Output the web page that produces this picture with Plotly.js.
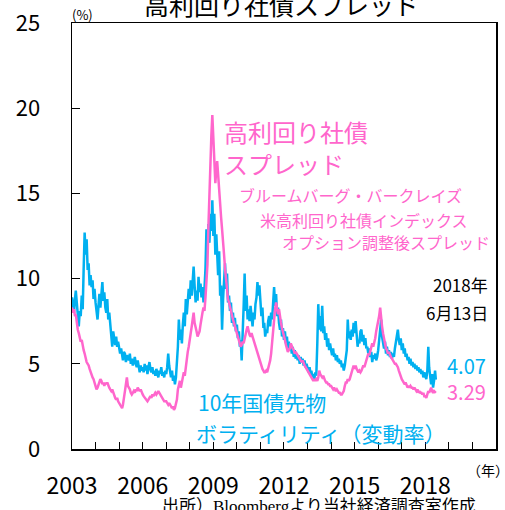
<!DOCTYPE html>
<html>
<head>
<meta charset="utf-8">
<script src="https://cdn.plot.ly/plotly-3.0.1.min.js"></script>
<style>
  html, body { margin: 0; padding: 0; background: #fff; }
  #container { width: 505px; height: 510px; }
</style>
</head>
<body>
<div id="container"></div>
<script>
// semi-monthly readings (1st and 16th), 2003-01 .. 2018-06-13
var startYear = 2003;
var lastDate = '2018-06-13';

// high-yield OAS (%), one row per year
var spread = [
  8.3, 8.0, 8.2, 7.8, 7.9, 7.4, 7.0, 6.8, 6.5, 6.3, 6.4, 6.0, 5.8, 5.6, 5.3, 5.1, 5.0, 4.9, 4.7, 4.5, 4.4, 4.2, 4.1, 3.9,
  3.7, 3.5, 3.6, 3.8, 3.9, 4.1, 4.0, 3.8, 3.9, 3.7, 3.9, 3.8, 3.9, 3.7, 3.6, 3.5, 3.4, 3.5, 3.3, 3.1, 3.0, 2.9, 3.0, 2.8,
  2.7, 2.6, 2.5, 2.4, 2.6, 2.9, 3.4, 3.8, 4.2, 3.7, 3.6, 3.5, 3.3, 3.2, 3.3, 3.4, 3.3, 3.5, 3.4, 3.6, 3.5, 3.4, 3.5, 3.3,
  3.2, 3.1, 3.0, 2.9, 2.9, 2.8, 2.9, 3.0, 3.1, 3.0, 3.2, 3.1, 3.2, 3.3, 3.2, 3.3, 3.4, 3.3, 3.2, 3.1, 3.0, 2.9, 2.8, 2.8,
  2.8, 2.7, 2.6, 2.7, 2.6, 2.5, 2.4, 2.5, 2.3, 2.4, 2.6, 2.9, 3.5, 3.8, 4.0, 3.6, 3.9, 4.2, 4.5, 4.3, 4.9, 5.3, 5.7, 6.0,
  6.3, 6.8, 7.2, 7.6, 8.0, 7.4, 7.0, 6.9, 6.6, 6.8, 6.9, 7.3, 7.8, 8.0, 8.3, 8.1, 8.9, 9.6, 10.8, 13.0, 15.2, 16.6, 18.4, 19.6,
  17.8, 16.2, 15.6, 16.4, 16.9, 16.1, 15.0, 14.3, 13.6, 12.9, 12.3, 11.4, 10.6, 10.0, 9.3, 8.8, 8.6, 8.3, 8.0, 7.9, 7.6, 7.4, 7.2, 6.9,
  6.8, 6.6, 6.4, 6.2, 6.0, 6.1, 6.3, 6.2, 6.5, 6.9, 7.0, 7.2, 6.9, 6.7, 6.6, 6.8, 6.6, 6.4, 6.2, 6.0, 5.8, 5.6, 5.4, 5.2,
  5.0, 4.8, 4.7, 4.6, 4.5, 4.5, 4.6, 4.5, 4.7, 4.9, 5.2, 5.6, 6.3, 6.9, 7.5, 8.2, 8.6, 8.3, 7.9, 8.2, 7.6, 7.4, 7.1, 6.8,
  6.6, 6.4, 6.1, 5.9, 5.7, 5.8, 5.9, 6.2, 6.0, 5.9, 5.8, 5.6, 5.7, 5.6, 5.5, 5.4, 5.3, 5.2, 5.1, 5.2, 5.0, 4.9, 4.8, 4.7,
  4.6, 4.5, 4.4, 4.3, 4.2, 4.1, 4.0, 4.1, 4.0, 4.1, 4.0, 4.2, 4.6, 4.4, 4.3, 4.2, 4.3, 4.1, 4.0, 3.9, 3.9, 3.8, 3.8, 3.7,
  3.7, 3.6, 3.5, 3.6, 3.5, 3.4, 3.5, 3.4, 3.3, 3.3, 3.2, 3.2, 3.3, 3.4, 3.7, 3.9, 3.9, 4.1, 4.0, 4.1, 4.3, 4.5, 4.8, 4.9,
  4.7, 4.9, 4.7, 4.6, 4.5, 4.6, 4.5, 4.6, 4.8, 4.9, 4.8, 5.0, 5.2, 5.4, 5.6, 5.5, 5.8, 6.0, 6.2, 6.0, 6.2, 6.5, 6.9, 7.2,
  7.3, 7.8, 8.3, 7.6, 7.2, 6.8, 6.4, 6.2, 5.9, 5.8, 5.6, 5.7, 5.5, 5.4, 5.3, 5.2, 5.1, 5.0, 5.0, 4.9, 4.8, 4.6, 4.4, 4.2,
  4.1, 4.0, 3.9, 3.8, 3.9, 3.7, 3.6, 3.7, 3.6, 3.7, 3.6, 3.6, 3.5, 3.6, 3.5, 3.4, 3.5, 3.3, 3.4, 3.3, 3.3, 3.2, 3.3, 3.1,
  3.1, 3.0, 3.2, 3.4, 3.3, 3.5, 3.6, 3.4, 3.3, 3.4, 3.3, 3.29
];

// 10y treasury futures volatility (%)
var vol = [
  8.9, 8.4, 8.0, 8.8, 9.3, 8.6, 7.6, 7.2, 8.1, 7.8, 9.0, 8.2, 10.6, 12.7, 11.4, 12.3, 10.5, 10.9, 9.6, 10.2, 9.5, 9.9, 8.8, 9.4,
  8.6, 8.1, 7.6, 8.4, 9.1, 8.3, 9.4, 9.8, 8.7, 9.2, 8.3, 8.0, 8.8, 7.6, 8.0, 7.2, 6.6, 6.0, 6.9, 6.4, 6.1, 6.6, 6.0, 6.3,
  6.0, 5.6, 5.9, 5.4, 5.2, 5.7, 5.6, 5.1, 5.5, 5.4, 5.2, 5.6, 5.0, 5.3, 4.9, 5.1, 5.4, 5.0, 4.8, 5.2, 4.7, 4.5, 4.9, 4.6,
  4.8, 4.5, 5.0, 4.6, 4.9, 4.4, 4.8, 5.1, 4.7, 4.5, 4.8, 4.4, 4.6, 4.3, 4.7, 4.5, 4.2, 4.6, 4.4, 4.8, 4.3, 4.5, 4.2, 4.6,
  4.4, 4.8, 5.6, 4.9, 4.5, 4.2, 4.6, 4.0, 4.3, 3.8, 4.2, 5.0, 6.0, 7.6, 6.4, 7.0, 6.2, 7.3, 8.0, 7.2, 8.8, 7.9, 8.6, 9.4,
  8.8, 9.9, 9.0, 10.4, 10.7, 9.6, 8.6, 9.3, 8.7, 10.1, 9.2, 9.7, 8.9, 9.5, 8.6, 9.4, 10.6, 12.9, 11.6, 13.2, 12.1, 13.8, 12.8, 14.6,
  12.5, 13.8, 11.4, 12.6, 11.3, 10.2, 11.6, 9.0, 9.6, 7.0, 8.8, 9.6, 10.9, 9.4, 10.3, 8.6, 9.0, 8.1, 8.6, 7.4, 8.0, 7.2, 7.7, 6.9,
  7.3, 6.5, 6.9, 6.0, 6.4, 5.2, 6.6, 8.4, 10.3, 8.1, 9.0, 7.6, 8.2, 7.5, 8.4, 7.8, 7.2, 8.0, 7.6, 8.5, 8.9, 9.8, 9.0, 9.6,
  8.4, 7.8, 8.3, 7.1, 7.4, 6.6, 7.0, 6.8, 7.5, 7.8, 7.2, 8.0, 7.6, 8.8, 9.5, 8.4, 9.1, 7.8, 8.3, 7.4, 7.0, 7.6, 6.6, 7.1,
  6.4, 6.9, 6.2, 6.6, 5.9, 6.3, 5.8, 6.1, 5.6, 6.0, 5.4, 5.8, 5.3, 5.6, 5.2, 5.5, 5.0, 5.4, 5.1, 5.3, 4.9, 5.2, 4.8, 5.0,
  4.7, 4.5, 4.8, 4.4, 4.6, 4.2, 4.4, 4.1, 4.5, 4.3, 6.2, 8.5, 7.0, 7.8, 6.9, 8.4, 6.8, 7.2, 6.4, 6.8, 6.0, 6.5, 5.8, 6.2,
  5.8, 5.5, 5.9, 5.4, 5.6, 5.2, 5.5, 5.1, 5.3, 5.0, 5.2, 4.8, 5.0, 4.6, 4.9, 5.4, 5.8, 7.6, 6.5, 6.9, 6.4, 7.0, 6.6, 7.4,
  6.8, 7.5, 6.6, 6.0, 6.4, 6.2, 6.9, 7.0, 6.3, 6.7, 6.1, 6.5, 5.9, 6.0, 5.6, 5.9, 5.4, 5.7, 5.1, 5.5, 5.3, 5.6, 5.2, 5.4,
  5.8, 6.3, 6.9, 7.6, 6.6, 6.2, 5.9, 6.3, 5.6, 6.0, 5.5, 5.8, 5.4, 5.7, 5.3, 5.6, 5.4, 5.9, 6.2, 6.6, 7.0, 6.4, 6.1, 6.5,
  5.8, 6.2, 5.6, 5.9, 5.4, 5.6, 5.2, 5.4, 5.0, 5.3, 4.9, 5.1, 4.8, 5.0, 4.7, 4.9, 4.6, 4.8, 4.5, 4.7, 4.4, 4.6, 4.2, 4.5,
  4.3, 4.1, 4.6, 6.0, 4.8, 4.2, 3.8, 4.4, 3.6, 4.0, 4.6, 4.07
];

var tickYears = [2003, 2004, 2005, 2006, 2007, 2008, 2009, 2010, 2011, 2012,
                 2013, 2014, 2015, 2016, 2017, 2018, 2019, 2020, 2021];
var labelYears = [2003, 2006, 2009, 2012, 2015, 2018];

var dates = [];
for (var i = 0; i < spread.length - 1; i++) {
    var y = startYear + Math.floor(i / 24);
    var m = Math.floor((i % 24) / 2) + 1;
    dates.push(y + '-' + (m < 10 ? '0' + m : m) + (i % 2 ? '-16' : '-01'));
}
dates.push(lastDate);

var PINK = '#ff66cc';
var CYAN = '#00b0f0';
var JP = '"Noto Sans CJK JP", "Noto Sans", sans-serif';

var trace1 = {
    x: dates, y: vol, type: 'scatter', mode: 'lines',
    line: { color: CYAN, width: 2.5 }, hoverinfo: 'skip'
};
var trace2 = {
    x: dates, y: spread, type: 'scatter', mode: 'lines',
    line: { color: PINK, width: 2.5 }, hoverinfo: 'skip'
};

function note(text, x, y, size, color, xanchor) {
    return {
        text: text, xref: 'paper', yref: 'paper', x: x, y: y,
        xanchor: xanchor || 'left', yanchor: 'middle', showarrow: false,
        font: { family: JP, size: size, color: color }
    };
}

var layout = {
    width: 505,
    height: 510,
    margin: { l: 72, r: 9, t: 23, b: 61 },
    paper_bgcolor: '#ffffff',
    plot_bgcolor: '#ffffff',
    showlegend: false,
    font: { family: JP, color: '#000' },
    xaxis: {
        type: 'date',
        range: ['2003-01-01', '2021-01-01'],
        tickvals: tickYears.map(function (y) { return y + '-01-01'; }),
        ticktext: tickYears.map(function (y) { return labelYears.indexOf(y) >= 0 ? String(y) : ''; }),
        ticks: 'inside', ticklen: 7, tickwidth: 1, tickcolor: '#000',
        ticklabelstandoff: 16,
        tickfont: { family: JP, size: 23, color: '#000' },
        showgrid: false, zeroline: false,
        showline: true, linecolor: '#000', linewidth: 1.5, mirror: true
    },
    yaxis: {
        range: [0, 25], dtick: 5,
        ticks: 'inside', ticklen: 8, tickwidth: 1, tickcolor: '#000',
        ticklabelstandoff: 26,
        tickfont: { family: JP, size: 22, color: '#000' },
        showgrid: false, zeroline: false,
        showline: true, linecolor: '#000', linewidth: 1.5, mirror: true
    },
    annotations: [
        note('高利回り社債スプレッド', 0.495, 1.045, 25, '#000', 'center'),
        note('(%)', -0.005, 1.02, 13, '#000'),
        note('（年）', 1.035, -0.05, 14, '#000', 'right'),
        note('高利回り社債', 0.354, 0.746, 24, PINK),
        note('スプレッド', 0.354, 0.671, 24, PINK),
        note('ブルームバーグ・バークレイズ', 0.389, 0.596, 16, PINK),
        note('米高利回り社債インデックス', 0.439, 0.538, 16, PINK),
        note('オプション調整後スプレッド', 0.491, 0.486, 16, PINK),
        note('2018年', 0.986, 0.385, 17, '#000', 'right'),
        note('6月13日', 0.986, 0.320, 17, '#000', 'right'),
        note('4.07', 0.982, 0.197, 20, CYAN, 'right'),
        note('3.29', 0.982, 0.134, 20, PINK, 'right'),
        note('10年国債先物', 0.292, 0.110, 21, CYAN),
        note('ボラティリティ（変動率）', 0.288, 0.038, 21, CYAN),
        {
            text: '出所）Bloombergより当社経済調査室作成',
            xref: 'paper', yref: 'paper', x: 0.583, y: -0.136,
            xanchor: 'center', yanchor: 'middle', showarrow: false,
            font: { family: '"Liberation Serif", "Noto Sans CJK JP", serif', size: 17, color: '#000' }
        }
    ]
};

Plotly.newPlot('container', [trace1, trace2], layout, { displayModeBar: false, staticPlot: true });
</script>
</body>
</html>
